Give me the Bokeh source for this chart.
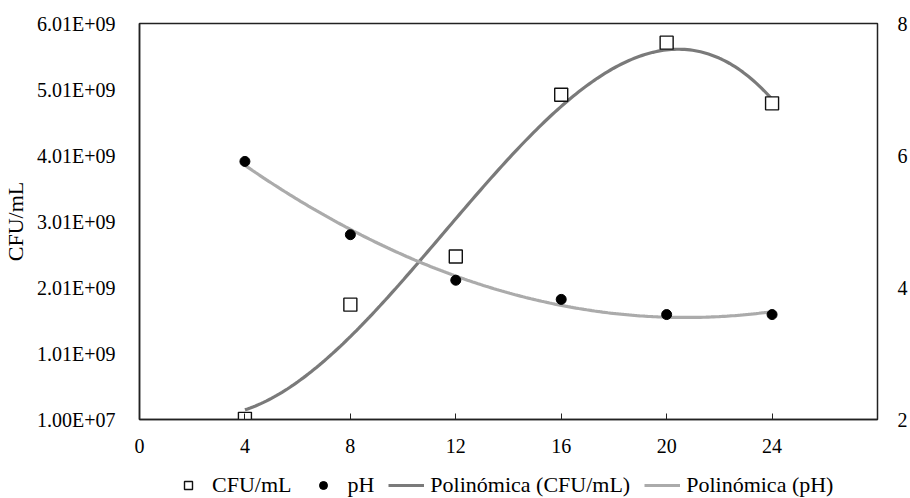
import numpy as np
from bokeh.plotting import figure
from bokeh.layouts import column
from bokeh.models import Range1d, LinearAxis, FixedTicker, Legend, LegendItem, ColumnDataSource
from bokeh.embed import file_html
from bokeh.resources import INLINE

# ---- data ----
hours = [4, 8, 12, 16, 20, 24]
cfu = [2.0e7, 1.75e9, 2.48e9, 4.93e9, 5.72e9, 4.80e9]
ph = [5.91, 4.80, 4.11, 3.82, 3.59, 3.59]

x_ticks = [0, 4, 8, 12, 16, 20, 24]
left_ticks = [1.0e7, 1.01e9, 2.01e9, 3.01e9, 4.01e9, 5.01e9, 6.01e9]
left_labels = ["1.00E+07", "1.01E+09", "2.01E+09", "3.01E+09", "4.01E+09", "5.01E+09", "6.01E+09"]
right_ticks = [2, 4, 6, 8]

FONT = "Liberation Serif"
FS = "20px"
FS_BIG = "22px"

p = figure(width=910, height=455, output_backend="svg", toolbar_location=None,
           x_range=Range1d(0, 28), y_range=Range1d(1.0e7, 6.01e9),
           min_border_left=134, min_border_right=28, min_border_top=23, min_border_bottom=36)
p.extra_y_ranges = {"ph": Range1d(2, 8)}
p.xgrid.visible = False
p.ygrid.visible = False
p.outline_line_color = "#222222"
p.outline_line_width = 1.5
p.background_fill_color = "white"
p.border_fill_color = "white"

# trendlines (polynomial fits of the data, like the spreadsheet trendlines)
xs = np.linspace(hours[0], hours[-1], 200)
c_cfu = np.polyfit(hours, cfu, 3)
c_ph = np.polyfit(hours, ph, 2)
src_fit = ColumnDataSource(dict(x=xs, cfu=np.polyval(c_cfu, xs), ph=np.polyval(c_ph, xs)))
src = ColumnDataSource(dict(x=hours, cfu=cfu, ph=ph))

LINE_CFU = dict(line_color="#7a7a7a", line_width=3.2)
LINE_PH = dict(line_color="#ababab", line_width=3.2)
MK_CFU = dict(marker="square", size=13, fill_color="white", line_color="#111111", line_width=1.4)
MK_PH = dict(marker="circle", size=10, fill_color="black", line_color="black")

p.line("x", "cfu", source=src_fit, **LINE_CFU)
p.line("x", "ph", source=src_fit, y_range_name="ph", **LINE_PH)
p.scatter("x", "cfu", source=src, **MK_CFU)
p.scatter("x", "ph", source=src, y_range_name="ph", **MK_PH)

# axes
xa = p.xaxis[0]
xa.ticker = FixedTicker(ticks=x_ticks)
xa.major_tick_in = 6
xa.major_tick_out = 0
xa.minor_tick_line_color = None
xa.axis_line_color = "#222222"
xa.axis_line_width = 1.5
xa.major_tick_line_color = "#222222"
xa.major_label_standoff = 19
xa.major_label_text_font = FONT
xa.major_label_text_font_size = FS
xa.major_label_text_color = "black"

ya = p.yaxis[0]
ya.ticker = FixedTicker(ticks=left_ticks)
ya.major_label_overrides = {float(t): l for t, l in zip(left_ticks, left_labels)}
ya.major_tick_line_color = None
ya.minor_tick_line_color = None
ya.axis_line_color = "#222222"
ya.axis_line_width = 1.5
ya.major_label_standoff = 18
ya.major_label_text_font = FONT
ya.major_label_text_font_size = FS
ya.major_label_text_color = "black"
ya.axis_label = "CFU/mL"
ya.axis_label_text_font = FONT
ya.axis_label_text_font_size = FS_BIG
ya.axis_label_text_font_style = "normal"
ya.axis_label_text_color = "black"
ya.axis_label_standoff = 6

ra = LinearAxis(y_range_name="ph", ticker=FixedTicker(ticks=right_ticks))
ra.major_tick_line_color = None
ra.minor_tick_line_color = None
ra.axis_line_color = None
ra.major_label_standoff = 14
ra.major_label_text_font = FONT
ra.major_label_text_font_size = FS
ra.major_label_text_color = "black"
p.add_layout(ra, "right")

# legend strip below the chart (its frame aligns with the chart frame)
lf = figure(width=910, height=43, output_backend="svg", toolbar_location=None,
            x_range=Range1d(0, 28), y_range=Range1d(1.0e7, 6.01e9),
            x_axis_type=None, y_axis_type=None, min_border=0)
lf.extra_y_ranges = {"ph": Range1d(2, 8)}
lf.outline_line_color = None
lf.xgrid.visible = False
lf.ygrid.visible = False
r1 = lf.scatter("x", "cfu", source=src, visible=False, **MK_CFU)
r2 = lf.scatter("x", "ph", source=src, y_range_name="ph", visible=False, **MK_PH)
r3 = lf.line("x", "cfu", source=src_fit, visible=False, **LINE_CFU)
r4 = lf.line("x", "ph", source=src_fit, y_range_name="ph", visible=False, **LINE_PH)

legend = Legend(items=[
    LegendItem(label="CFU/mL", renderers=[r1]),
    LegendItem(label="pH", renderers=[r2]),
    LegendItem(label="Polinómica (CFU/mL)", renderers=[r3]),
    LegendItem(label="Polinómica (pH)", renderers=[r4]),
], orientation="horizontal", location=(31, 0))
legend.label_text_font = FONT
legend.label_text_font_size = FS_BIG
legend.label_text_color = "black"
legend.glyph_width = 36
legend.glyph_height = 20
legend.label_standoff = 6
legend.spacing = 14
legend.padding = 2
legend.margin = 0
legend.border_line_color = None
legend.background_fill_alpha = 0
lf.add_layout(legend, "center")

open("out.html", "w").write(file_html(column(p, lf), INLINE))
